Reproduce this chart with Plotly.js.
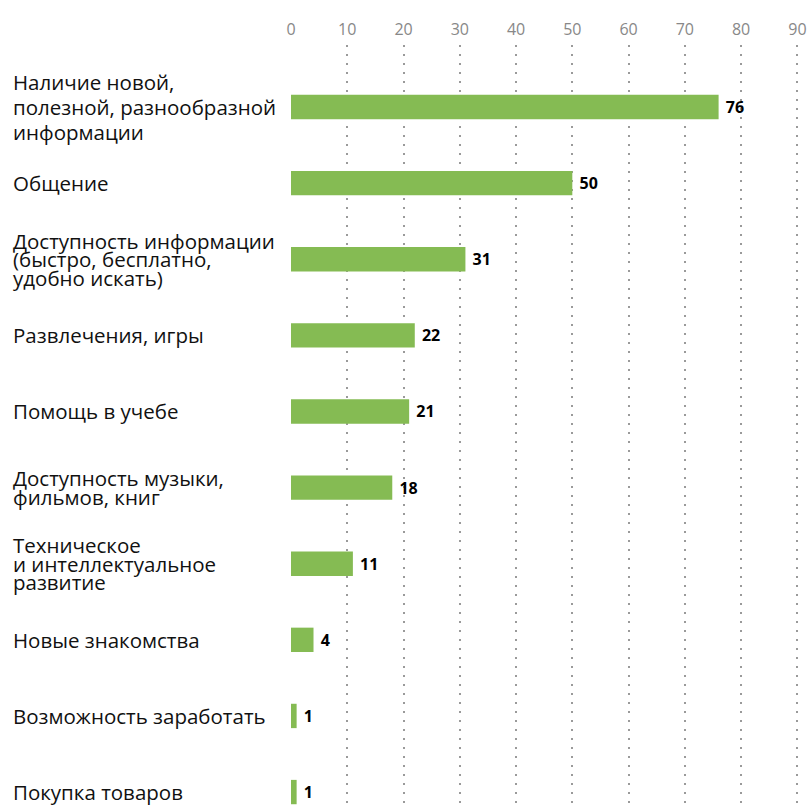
<!DOCTYPE html>
<html><head><meta charset="utf-8">
<script src="https://cdn.plot.ly/plotly-3.0.1.min.js"></script>
<style>html,body{margin:0;padding:0;background:#fff}#c{width:807px;height:805px}</style>
</head><body><div id="c"></div>
<script>
const categories = [
  "Наличие новой,<br>полезной, разнообразной<br>информации",
  "Общение",
  "Доступность информации<br>(быстро, бесплатно,<br>удобно искать)",
  "Развлечения, игры",
  "Помощь в учебе",
  "Доступность музыки,<br>фильмов, книг",
  "Техническое<br>и интеллектуальное<br>развитие",
  "Новые знакомства",
  "Возможность заработать",
  "Покупка товаров"
];
const values = [76, 50, 31, 22, 21, 18, 11, 4, 1, 1];
const xTicks = [0, 10, 20, 30, 40, 50, 60, 70, 80, 90];

const ids = categories.map((c, i) => "c" + i);

const trace = {
  type: "bar",
  orientation: "h",
  y: ids,
  x: values,
  marker: {color: "#85bb53"},
  text: values.map(v => "\u00a0" + v),
  textposition: "outside",
  constraintext: "none",
  textfont: {family: "Open Sans", size: 16, color: "#000", weight: 700},
  cliponaxis: false,
  hoverinfo: "skip",
  width: 0.32
};

const annotations = [];
categories.forEach((c, i) => {
  const lines = c.split("<br>");
  const lh = i === 0 ? 25 : 18.5;
  lines.forEach((ln, k) => {
    annotations.push({
      xref: "paper", yref: "y",
      x: -0.546, y: ids[i],
      xanchor: "left", yanchor: "middle", align: "left",
      yshift: ((lines.length - 1) / 2 - k) * lh,
      text: ln, showarrow: false,
      font: {family: "Open Sans", size: 20.5, color: "#111"}
    });
  });
});

const layout = {
  width: 807, height: 805,
  margin: {l: 291, r: 4, t: 45, b: 0},
  paper_bgcolor: "#fff", plot_bgcolor: "#fff",
  showlegend: false,
  xaxis: {
    side: "top", range: [0, 91], tickvals: xTicks,
    ticktext: xTicks.map(String),
    showgrid: true, gridcolor: "#9a9a9a", gridwidth: 2, griddash: "2px,7px",
    zeroline: false, showline: false, ticks: "",
    tickfont: {family: "Open Sans", size: 16, color: "#888"},
    ticklabelstandoff: 6, fixedrange: true
  },
  yaxis: {
    type: "category", range: [9.17, -0.815],
    showticklabels: false, showgrid: false, zeroline: false, showline: false, ticks: ""
  },
  annotations: annotations
};

Plotly.newPlot("c", [trace], layout, {displayModeBar: false, staticPlot: true});
</script>
</body></html>
